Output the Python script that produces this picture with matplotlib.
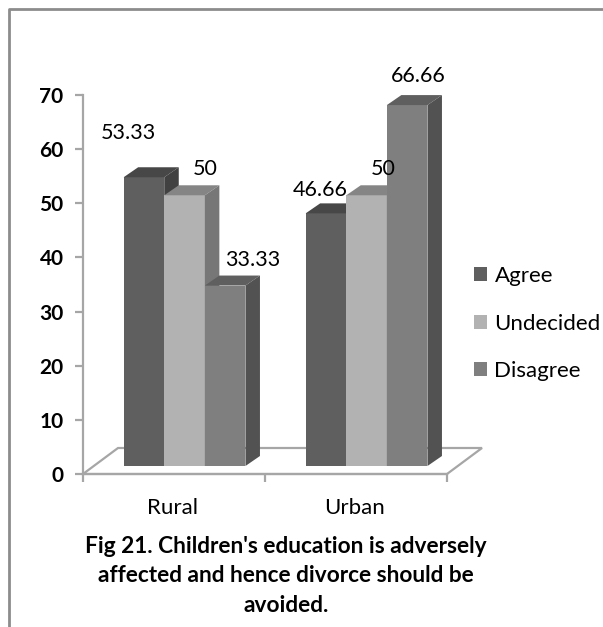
import matplotlib
matplotlib.use("Agg")
import matplotlib.pyplot as plt
from matplotlib.patches import Polygon, Patch
from matplotlib.lines import Line2D

plt.rcParams['font.family'] = ['Lato', 'DejaVu Sans']

groups = ["Rural", "Urban"]
series = ["Agree", "Undecided", "Disagree"]
agree = [53.33, 46.66]
undecided = [50, 50]
disagree = [33.33, 66.66]
y_ticks = [0, 10, 20, 30, 40, 50, 60, 70]
caption = "Fig 21. Children's education is adversely\naffected and hence divorce should be\navoided."

# front, top and side shades for each series
front_cols = ["#5f5f5f", "#b2b2b2", "#7f7f7f"]
top_cols = ["#474747", "#858585", "#5f5f5f"]
side_cols = ["#414141", "#777777", "#525252"]

W, H = 603, 627
fig = plt.figure(figsize=(W / 100, H / 100), dpi=100)

# axes box runs from the 0 tick to the 70 tick
left, right, bottom, top = 83, 447, 474, 95
ax = fig.add_axes([left / W, 1 - bottom / H, (right - left) / W, (bottom - top) / H])
ax.set_xlim(0, 2)
ax.set_ylim(0, 70)
ax.patch.set_alpha(0)

px_x = 2 / (right - left)
px_y = 70 / (bottom - top)

# 3d look: everything sits on a floor, pushed back by these offsets
bar_w = 40.6 * px_x
base = 8 * px_y
shift = 0.5 + 0.058
dep_x = 14.5 * px_x
dep_y = 10 * px_y
floor_x = 35 * px_x
floor_y = 26 * px_y

floor = Polygon([(0, 0), (floor_x, floor_y), (2 + floor_x, floor_y), (2, 0)],
                closed=True, fc="white", ec="#a6a6a6", lw=1.6, clip_on=False, zorder=1)
ax.add_patch(floor)

values = [agree, undecided, disagree]
for i in range(len(groups)):
    for j in range(len(series)):
        x0 = i + shift + (j - 1.5) * bar_w
        x1 = x0 + bar_w
        y1 = base + values[j][i]
        z = 3 + j
        ax.bar(x0, values[j][i], width=bar_w, bottom=base, align="edge",
               color=front_cols[j], linewidth=0, zorder=z)
        ax.add_patch(Polygon([(x0, y1), (x0 + dep_x, y1 + dep_y), (x1 + dep_x, y1 + dep_y), (x1, y1)],
                             closed=True, fc=top_cols[j], ec="none", clip_on=False, zorder=z))
        ax.add_patch(Polygon([(x1, base), (x1 + dep_x, base + dep_y), (x1 + dep_x, y1 + dep_y), (x1, y1)],
                             closed=True, fc=side_cols[j], ec="none", clip_on=False, zorder=z))

# label offsets from the front top-centre of each bar, in pixels
label_offs = [[(-16, 44), (21, 26), (28, 26)],
              [(-6, 23), (17, 26), (11, 29)]]
for i in range(len(groups)):
    for j in range(len(series)):
        xc = i + shift + (j - 1) * bar_w
        ax.annotate(str(values[j][i]), (xc, base + values[j][i]),
                    xytext=label_offs[i][j], textcoords="offset pixels",
                    ha="center", va="center", fontsize=15.5, color="black", zorder=10,
                    annotation_clip=False)

for s in ["top", "right"]:
    ax.spines[s].set_visible(False)
for s in ["left", "bottom"]:
    ax.spines[s].set_color("#a6a6a6")
    ax.spines[s].set_linewidth(1.6)
    ax.spines[s].set_zorder(2)

ax.set_yticks(y_ticks)
ax.set_xticks([0, 1, 2])
ax.set_xticklabels([])
ax.tick_params(axis="y", length=6, width=1.6, color="#a6a6a6", labelsize=15, pad=8)
ax.tick_params(axis="x", length=6, width=1.6, color="#a6a6a6")
for lab in ax.get_yticklabels():
    lab.set_fontweight("bold")

for i, name in enumerate(groups):
    ax.annotate(name, (i + 0.5, 0), xytext=(-2, -34), textcoords="offset pixels",
                ha="center", va="center", fontsize=16, color="black", annotation_clip=False)

handles = [Patch(fc=c, ec="none") for c in front_cols]
fig.legend(handles, series, loc="center left", bbox_to_anchor=(474 / W, 1 - 323.5 / H),
           frameon=False, fontsize=16, handlelength=0.6, handleheight=0.6,
           handletextpad=0.32, labelspacing=1.24, borderpad=0, borderaxespad=0)

fig.text(286 / W, 1 - 576 / H, caption, ha="center", va="center", fontsize=16.3,
         fontweight="bold", linespacing=1.52, color="black")

# grey frame around the chart, open on the right and at the bottom
fig.add_artist(Line2D([9 / W, 9 / W, 1], [0, 1 - 9 / H, 1 - 9 / H], color="#8c8c8c", lw=2))

fig.savefig("out.png", dpi=100)
